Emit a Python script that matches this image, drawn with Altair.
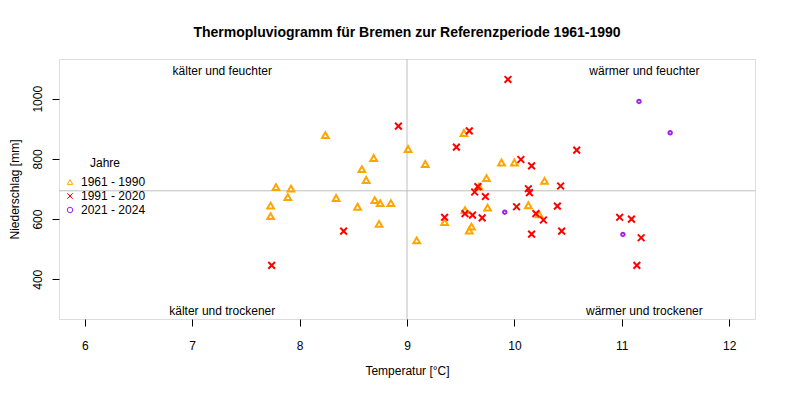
import altair as alt
import pandas as pd

# 1961 - 1990
t1 = [8.24, 9.01, 8.69, 8.58, 8.62, 7.78, 7.92, 7.89, 8.34, 7.73, 8.54, 8.70, 8.75, 8.85, 7.73, 8.74,
      9.53, 9.17, 9.88, 10.00, 9.74, 10.28, 9.67, 9.54, 9.75, 10.13, 9.35, 9.60, 9.58, 9.09, 10.23]
p1 = [879, 833, 803, 766, 730, 706, 701, 673, 670, 645, 641, 663, 653, 653, 610, 584,
      886, 783, 788, 788, 736, 727, 708, 630, 638, 646, 590, 575, 562, 529, 616]
# 1991 - 2020
t2 = [8.92, 8.41, 7.74, 9.94, 9.58, 9.46, 10.58, 10.06, 10.16, 10.43, 10.13, 10.14, 9.66, 9.63, 9.73,
      10.02, 10.40, 9.54, 9.61, 9.70, 9.35, 10.20, 10.27, 10.16, 10.44, 10.98, 11.09, 11.18, 11.14]
p2 = [909, 560, 446, 1064, 893, 839, 829, 798, 777, 710, 701, 688, 708, 690, 675,
      641, 643, 618, 613, 604, 606, 618, 597, 550, 560, 606, 600, 538, 446]
# 2021 - 2024
t3 = [11.16, 11.45, 9.91, 11.01]
p3 = [991, 887, 623, 549]

groups = ["1961 - 1990", "1991 - 2020", "2021 - 2024"]
colors = ["#FFA500", "#FF0000", "#A020F0"]
shapes = ["triangle-up", "M-1,-1L1,1M-1,1L1,-1", "circle"]

ref_temp = [9.0]
ref_prec = [694]

quad_text = ["kälter und feuchter", "wärmer und feuchter", "kälter und trockener", "wärmer und trockener"]
quad_x = [7.28, 11.21, 7.28, 11.21]
quad_y = [1100, 1100, 300, 300]

x_ticks = [6, 7, 8, 9, 10, 11, 12]
y_ticks = [400, 600, 800, 1000]

rows = []
for g, ts, ps in zip(groups, [t1, t2, t3], [p1, p2, p3]):
    for t, p in zip(ts, ps):
        rows.append({"Temperatur": t, "Niederschlag": p, "Jahre": g})
df = pd.DataFrame(rows)

FONT = "Liberation Sans"
xscale = alt.Scale(domain=[5.76, 12.24], nice=False, zero=False)
yscale = alt.Scale(domain=[268, 1132], nice=False, zero=False)

xaxis = alt.Axis(values=x_ticks, title="Temperatur [°C]", grid=False, domain=False, tickSize=7,
                 tickColor="black", labelColor="black", labelFontSize=12, labelFont=FONT,
                 labelPadding=14, titleFont=FONT, titleFontSize=12, titleFontWeight="normal",
                 titleColor="black", titlePadding=14, format="d")
yaxis = alt.Axis(values=y_ticks, title="Niederschlag [mm]", grid=False, domain=False, tickSize=7,
                 tickColor="black", labelColor="black", labelFontSize=12, labelFont=FONT,
                 labelAngle=270, labelAlign="center", labelBaseline="bottom", labelPadding=8,
                 titleFont=FONT, titleFontSize=12, titleFontWeight="normal", titleColor="black",
                 titlePadding=10, format="d")

vrule = alt.Chart(pd.DataFrame({"t": ref_temp})).mark_rule(color="#BEBEBE", strokeWidth=1).encode(
    x=alt.X("t:Q", scale=xscale, axis=xaxis))
hrule = alt.Chart(pd.DataFrame({"p": ref_prec})).mark_rule(color="#BEBEBE", strokeWidth=1).encode(
    y=alt.Y("p:Q", scale=yscale, axis=yaxis))

points = alt.Chart(df).mark_point(filled=False, strokeWidth=2, opacity=1).encode(
    x=alt.X("Temperatur:Q", scale=xscale, axis=xaxis),
    y=alt.Y("Niederschlag:Q", scale=yscale, axis=yaxis),
    color=alt.Color("Jahre:N", scale=alt.Scale(domain=groups, range=colors),
                    legend=alt.Legend(orient="none", legendX=5, legendY=99, title="Jahre",
                                      titleFont=FONT, titleFontSize=12, titleFontWeight="normal",
                                      titleColor="black", titleAnchor="middle", titlePadding=6,
                                      labelFont=FONT, labelFontSize=12, labelColor="black",
                                      symbolStrokeWidth=1, symbolSize=30, rowPadding=2,
                                      labelOffset=5)),
    shape=alt.Shape("Jahre:N", scale=alt.Scale(domain=groups, range=shapes)),
    size=alt.condition(alt.datum.Jahre == "2021 - 2024", alt.value(12), alt.value(45)),
)

qdf = pd.DataFrame({"x": quad_x, "y": quad_y, "label": quad_text})
texts = alt.Chart(qdf).mark_text(font=FONT, fontSize=12, color="black", baseline="middle", dy=2).encode(
    x=alt.X("x:Q", scale=xscale), y=alt.Y("y:Q", scale=yscale), text="label:N")

chart = alt.layer(vrule, hrule, points, texts).properties(
    width=696, height=260,
    title=alt.TitleParams("Thermopluviogramm für Bremen zur Referenzperiode 1961-1990",
                          font=FONT, fontSize=14, fontWeight="bold", color="black",
                          anchor="middle", offset=19),
    autosize=alt.AutoSizeParams(type="none"),
    padding={"left": 51, "top": 51, "right": 24, "bottom": 66},
).configure_view(stroke="black", strokeWidth=1).configure(background="white")

chart.save("out.html", embed_options={"renderer": "svg", "actions": False})
